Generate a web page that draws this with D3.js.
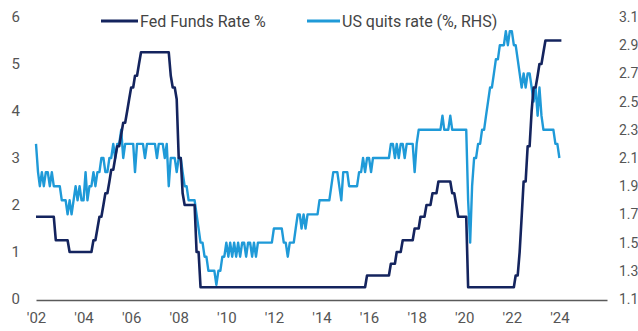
<!DOCTYPE html>
<html>
<head>
<meta charset="utf-8">
<script src="https://cdn.jsdelivr.net/npm/d3@7/dist/d3.min.js"></script>
<style>
  html, body { margin: 0; padding: 0; background: #ffffff; }
  svg { display: block; }
  .tick text, .legend text { font-family: "Liberation Sans Narrow", "Arial Narrow", Roboto, sans-serif; }
</style>
</head>
<body>
<svg id="chart" width="638" height="331"></svg>
<script>
// Monthly series, starting January 2002
const seriesStart = [2002, 0];

// Fed Funds Rate %, one row per year (left axis)
const fedFunds = [
  1.75, 1.75, 1.75, 1.75, 1.75, 1.75, 1.75, 1.75, 1.75, 1.75, 1.25, 1.25, // 2002
  1.25, 1.25, 1.25, 1.25, 1.25, 1.00, 1.00, 1.00, 1.00, 1.00, 1.00, 1.00, // 2003
  1.00, 1.00, 1.00, 1.00, 1.00, 1.25, 1.25, 1.50, 1.75, 1.75, 2.00, 2.25, // 2004
  2.25, 2.50, 2.75, 2.75, 3.00, 3.25, 3.25, 3.50, 3.75, 3.75, 4.00, 4.25, // 2005
  4.50, 4.50, 4.75, 4.75, 5.00, 5.25, 5.25, 5.25, 5.25, 5.25, 5.25, 5.25, // 2006
  5.25, 5.25, 5.25, 5.25, 5.25, 5.25, 5.25, 5.25, 4.75, 4.50, 4.50, 4.25, // 2007
  3.00, 3.00, 2.25, 2.00, 2.00, 2.00, 2.00, 2.00, 2.00, 1.00, 1.00, 0.25, // 2008
  0.25, 0.25, 0.25, 0.25, 0.25, 0.25, 0.25, 0.25, 0.25, 0.25, 0.25, 0.25, // 2009
  0.25, 0.25, 0.25, 0.25, 0.25, 0.25, 0.25, 0.25, 0.25, 0.25, 0.25, 0.25, // 2010
  0.25, 0.25, 0.25, 0.25, 0.25, 0.25, 0.25, 0.25, 0.25, 0.25, 0.25, 0.25, // 2011
  0.25, 0.25, 0.25, 0.25, 0.25, 0.25, 0.25, 0.25, 0.25, 0.25, 0.25, 0.25, // 2012
  0.25, 0.25, 0.25, 0.25, 0.25, 0.25, 0.25, 0.25, 0.25, 0.25, 0.25, 0.25, // 2013
  0.25, 0.25, 0.25, 0.25, 0.25, 0.25, 0.25, 0.25, 0.25, 0.25, 0.25, 0.25, // 2014
  0.25, 0.25, 0.25, 0.25, 0.25, 0.25, 0.25, 0.25, 0.25, 0.25, 0.25, 0.50, // 2015
  0.50, 0.50, 0.50, 0.50, 0.50, 0.50, 0.50, 0.50, 0.50, 0.50, 0.50, 0.75, // 2016
  0.75, 0.75, 1.00, 1.00, 1.00, 1.25, 1.25, 1.25, 1.25, 1.25, 1.25, 1.50, // 2017
  1.50, 1.50, 1.75, 1.75, 1.75, 2.00, 2.00, 2.00, 2.25, 2.25, 2.25, 2.50, // 2018
  2.50, 2.50, 2.50, 2.50, 2.50, 2.50, 2.25, 2.25, 2.00, 1.75, 1.75, 1.75, // 2019
  1.75, 1.75, 0.25, 0.25, 0.25, 0.25, 0.25, 0.25, 0.25, 0.25, 0.25, 0.25, // 2020
  0.25, 0.25, 0.25, 0.25, 0.25, 0.25, 0.25, 0.25, 0.25, 0.25, 0.25, 0.25, // 2021
  0.25, 0.25, 0.50, 0.50, 1.00, 1.75, 2.50, 2.50, 3.25, 3.25, 4.00, 4.50, // 2022
  4.50, 4.75, 5.00, 5.00, 5.25, 5.50, 5.50, 5.50, 5.50, 5.50, 5.50, 5.50, // 2023
  5.50, 5.50                                                              // 2024
];

// US quits rate (%), one row per year (right axis)
const quitsRate = [
  2.2, 2.0, 1.9, 2.0, 1.9, 2.0, 2.0, 1.9, 2.0, 1.9, 1.9, 1.9, // 2002
  1.9, 1.8, 1.8, 1.8, 1.7, 1.8, 1.7, 1.8, 1.9, 1.8, 1.9, 1.8, // 2003
  1.8, 2.0, 1.8, 1.9, 1.9, 2.0, 1.9, 2.0, 2.0, 2.1, 2.1, 2.0, // 2004
  2.0, 2.1, 2.1, 2.2, 2.1, 2.2, 2.2, 2.3, 2.1, 2.2, 2.2, 2.2, // 2005
  2.2, 2.2, 2.0, 2.2, 2.2, 2.2, 2.2, 2.1, 2.2, 2.2, 2.2, 2.2, // 2006
  2.2, 2.1, 2.2, 2.2, 2.2, 2.1, 2.2, 1.9, 2.1, 2.1, 2.1, 2.0, // 2007
  2.1, 2.1, 2.0, 1.9, 1.9, 1.8, 1.8, 1.8, 1.8, 1.7, 1.6, 1.5, // 2008
  1.5, 1.4, 1.4, 1.3, 1.3, 1.3, 1.3, 1.2, 1.3, 1.3, 1.4, 1.4, // 2009
  1.5, 1.4, 1.5, 1.4, 1.5, 1.4, 1.5, 1.4, 1.5, 1.5, 1.4, 1.5, // 2010
  1.5, 1.4, 1.5, 1.4, 1.5, 1.5, 1.5, 1.5, 1.5, 1.5, 1.5, 1.5, // 2011
  1.6, 1.6, 1.6, 1.6, 1.6, 1.5, 1.5, 1.4, 1.5, 1.5, 1.5, 1.6, // 2012
  1.7, 1.7, 1.6, 1.7, 1.6, 1.7, 1.7, 1.7, 1.7, 1.7, 1.7, 1.8, // 2013
  1.8, 1.8, 1.8, 1.8, 1.8, 1.9, 2.0, 2.0, 2.0, 1.9, 1.8, 2.0, // 2014
  2.0, 2.0, 1.9, 1.9, 1.9, 1.9, 1.9, 2.0, 2.0, 2.1, 2.0, 2.1, // 2015
  2.1, 2.0, 2.1, 2.1, 2.1, 2.1, 2.1, 2.1, 2.1, 2.1, 2.1, 2.2, // 2016
  2.2, 2.1, 2.2, 2.1, 2.2, 2.2, 2.1, 2.2, 2.2, 2.2, 2.2, 2.0, // 2017
  2.2, 2.3, 2.3, 2.3, 2.3, 2.3, 2.3, 2.3, 2.3, 2.3, 2.3, 2.3, // 2018
  2.3, 2.4, 2.3, 2.3, 2.3, 2.4, 2.3, 2.3, 2.3, 2.3, 2.3, 2.3, // 2019
  2.3, 2.3, 1.8, 1.5, 1.9, 2.1, 2.1, 2.2, 2.2, 2.3, 2.3, 2.4, // 2020
  2.5, 2.6, 2.6, 2.7, 2.8, 2.8, 2.9, 2.9, 2.9, 3.0, 2.9, 3.0, // 2021
  3.0, 2.9, 2.9, 2.8, 2.7, 2.6, 2.7, 2.6, 2.7, 2.7, 2.6, 2.5, // 2022
  2.6, 2.4, 2.6, 2.4, 2.3, 2.3, 2.3, 2.3, 2.3, 2.3, 2.2, 2.2, // 2023
  2.1                                                          // 2024
];

// Axis ticks and legend entries
const yearTicks = [2002, 2004, 2006, 2008, 2010, 2012, 2014, 2016, 2018, 2020, 2022, 2024];
const leftTicks = [0, 1, 2, 3, 4, 5, 6];
const rightTicks = [1.1, 1.3, 1.5, 1.7, 1.9, 2.1, 2.3, 2.5, 2.7, 2.9, 3.1];
const legendLabels = ["Fed Funds Rate %", "US quits rate (%, RHS)"];

const navy = "#14245e";
const sky = "#1f9ad8";

const monthDate = i => new Date(seriesStart[0], seriesStart[1] + i, 1);

const svg = d3.select("#chart");

const x = d3.scaleTime()
  .domain([new Date(2002, 0, 1), new Date(2026, 0, 1)])
  .range([36, 607]);
const yLeft = d3.scaleLinear().domain([0, 6]).range([299, 17]);
const yRight = d3.scaleLinear().domain([1.1, 3.1]).range([299, 17]);

// Bottom axis: baseline plus 'yy labels
const xAxis = svg.append("g")
  .attr("transform", "translate(0,300)")
  .call(d3.axisBottom(x)
    .tickValues(yearTicks.map(yr => new Date(yr, 0, 1)))
    .tickFormat(d => "'" + String(d.getFullYear()).slice(2))
    .tickSize(0)
    .tickPadding(12));
xAxis.select(".domain").attr("stroke", "#5a5a5a").attr("stroke-width", 1.4);
xAxis.selectAll(".tick text").attr("fill", "#555").style("font-size", "15px");

// Left axis labels
const lAxis = svg.append("g")
  .attr("transform", "translate(20,0)")
  .call(d3.axisLeft(yLeft).tickValues(leftTicks).tickFormat(d3.format("d")).tickSize(0).tickPadding(0));
lAxis.select(".domain").remove();
lAxis.selectAll(".tick text").attr("fill", "#555").style("font-size", "15px");

// Right axis labels
const rAxis = svg.append("g")
  .attr("transform", "translate(619,0)")
  .call(d3.axisRight(yRight).tickValues(rightTicks).tickFormat(d3.format(".1f")).tickSize(0).tickPadding(0));
rAxis.select(".domain").remove();
rAxis.selectAll(".tick text").attr("fill", "#555").style("font-size", "14px");

// Quits rate line (right scale)
svg.append("path")
  .datum(quitsRate)
  .attr("fill", "none")
  .attr("stroke", sky)
  .attr("stroke-width", 2.4)
  .attr("stroke-linejoin", "round")
  .attr("d", d3.line().x((d, i) => x(monthDate(i))).y(d => yRight(d)));

// Fed funds line (left scale), drawn on top
svg.append("path")
  .datum(fedFunds)
  .attr("fill", "none")
  .attr("stroke", navy)
  .attr("stroke-width", 2.6)
  .attr("stroke-linejoin", "round")
  .attr("d", d3.line().x((d, i) => x(monthDate(i))).y(d => yLeft(d)));

// Legend
const legendItems = [
  { label: legendLabels[0], color: navy, x0: 101, x1: 138 },
  { label: legendLabels[1], color: sky, x0: 307, x1: 340 }
];
const legend = svg.append("g").attr("class", "legend");
legendItems.forEach(item => {
  legend.append("line")
    .attr("x1", item.x0).attr("x2", item.x1)
    .attr("y1", 21).attr("y2", 21)
    .attr("stroke", item.color).attr("stroke-width", 3.2);
  legend.append("text")
    .attr("x", item.x1 + 2).attr("y", 26.5)
    .attr("fill", "#444")
    .style("font-size", "16px")
    .text(item.label);
});
</script>
</body>
</html>
